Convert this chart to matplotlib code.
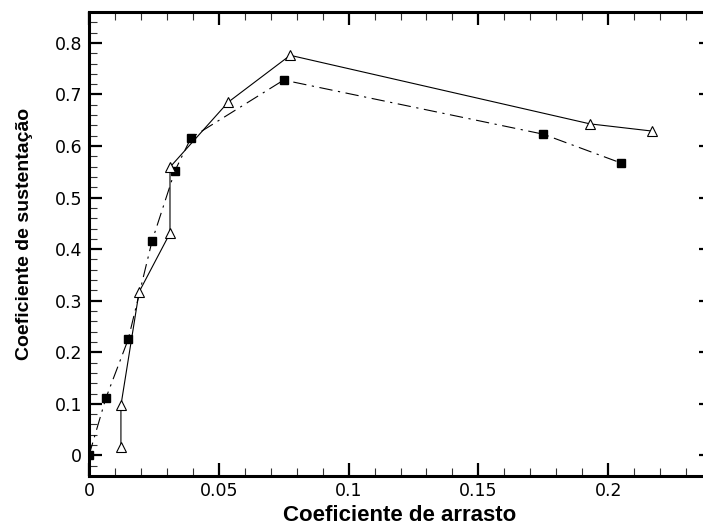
import matplotlib
matplotlib.use("Agg")
import matplotlib.pyplot as plt
from matplotlib.ticker import MultipleLocator

plt.rcParams['font.family'] = ['Liberation Sans', 'DejaVu Sans']

# Triangle series (solid line)
tri_cd = [0.0123, 0.0123, 0.0193, 0.0312, 0.0312, 0.0536, 0.0775, 0.193, 0.217]
tri_cl = [0.016, 0.097, 0.317, 0.431, 0.559, 0.685, 0.776, 0.643, 0.629]

# Square series (dash-dot line)
sq_cd = [0.0, 0.0065, 0.0151, 0.0243, 0.0331, 0.0393, 0.075, 0.175, 0.205]
sq_cl = [0.0, 0.111, 0.225, 0.416, 0.552, 0.616, 0.728, 0.623, 0.567]

xticks = [0, 0.05, 0.1, 0.15, 0.2]
xticklabels = ['0', '0.05', '0.1', '0.15', '0.2']
yticks = [0, 0.1, 0.2, 0.3, 0.4, 0.5, 0.6, 0.7, 0.8]
yticklabels = ['0', '0.1', '0.2', '0.3', '0.4', '0.5', '0.6', '0.7', '0.8']

fig = plt.figure(figsize=(7.03, 5.25), dpi=100)
ax = fig.add_axes([89/703, 1 - 476/525, (712 - 89)/703, (476 - 12)/525])

ax.plot(sq_cd, sq_cl, color='black', lw=0.8, linestyle=(0, (12, 5, 2, 5)),
        marker='s', markersize=6, markerfacecolor='black', markeredgecolor='black',
        zorder=3)
ax.plot(tri_cd, tri_cl, color='black', lw=0.8, linestyle='-',
        marker='^', markersize=7.5, markerfacecolor='white', markeredgecolor='black',
        markeredgewidth=0.8, zorder=4)

ax.set_xlim(0, 0.24)
ax.set_ylim(-0.04, 0.86)
ax.set_xticks(xticks)
ax.set_xticklabels(xticklabels, family=['DejaVu Sans'], fontsize=12.5)
ax.set_yticks(yticks)
ax.set_yticklabels(yticklabels, family=['DejaVu Sans'], fontsize=12.5)
ax.xaxis.set_minor_locator(MultipleLocator(0.01))
ax.yaxis.set_minor_locator(MultipleLocator(0.02))

ax.tick_params(which='both', direction='in', top=True, right=True)
ax.tick_params(axis='x', which='major', pad=4)
ax.tick_params(axis='y', which='major', pad=5)
ax.tick_params(which='major', length=9.5, width=1.6)
ax.tick_params(which='minor', length=6, width=0.8, color='#333333')
for s in ax.spines.values():
    s.set_linewidth(2.2)

ax.set_xlabel('Coeficiente de arrasto', fontsize=16, fontweight='bold')
ax.set_ylabel('Coeficiente de sustentação', fontsize=14, fontweight='bold')
ax.xaxis.set_label_coords(0.5 * (703 - 89) / 623 * 0 + (400 - 89) / 623, (476 - 505) / 464)
ax.yaxis.set_label_coords((33 - 89) / 623, (476 - 234) / 464)

fig.savefig('out.png', dpi=100)
